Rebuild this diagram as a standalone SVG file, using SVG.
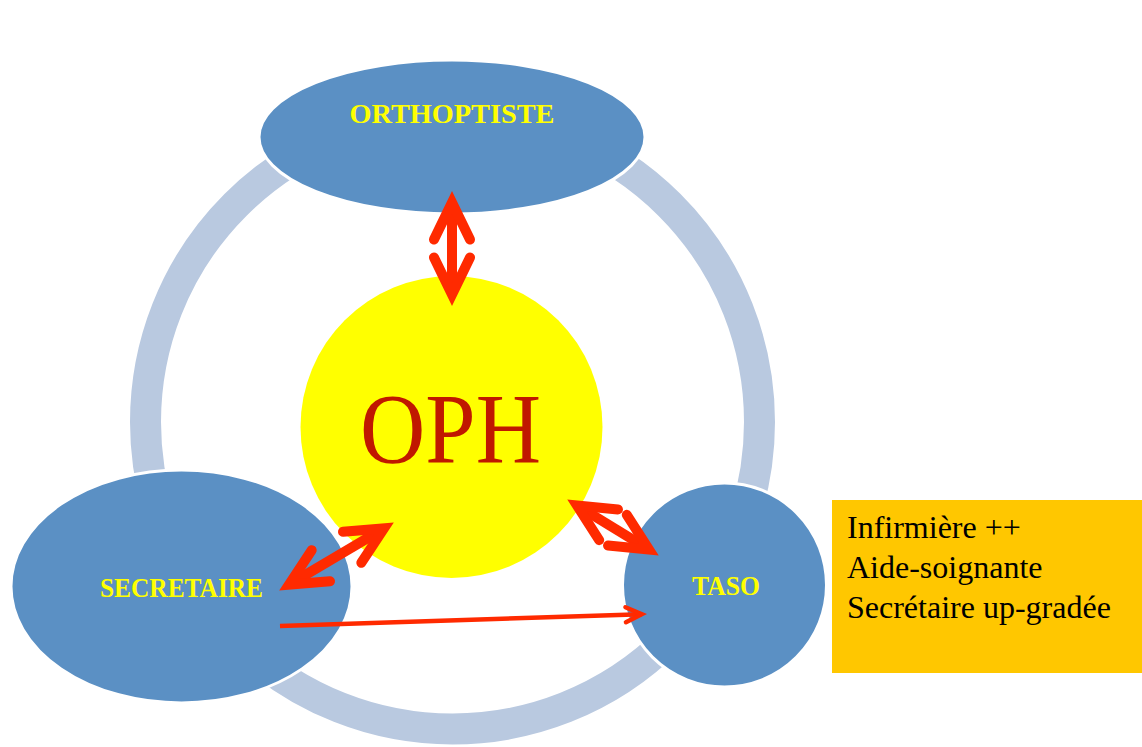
<svg xmlns="http://www.w3.org/2000/svg" width="1142" height="747" viewBox="0 0 1142 747">
<style>
.node{fill:#5B90C4;stroke:#FFFFFF;stroke-width:3}
.lbl{font-weight:bold;fill:#FFFF00;text-anchor:middle}
.big{stroke:#FF2A00;stroke-width:10;fill:none}
.thin{stroke:#FF2A00;stroke-width:4.5;fill:none}
</style>
<defs>
<marker id="headBig" markerUnits="userSpaceOnUse" orient="auto-start-reverse" refX="0" refY="0" markerWidth="10" markerHeight="10" overflow="visible">
<path d="M -37 -18 L 0 0 L -37 18" fill="none" stroke="#FF2A00" stroke-width="10" stroke-linecap="round" stroke-linejoin="miter" stroke-miterlimit="10"/>
</marker>
<marker id="headThin" markerUnits="userSpaceOnUse" orient="auto" refX="0" refY="0" markerWidth="10" markerHeight="10" overflow="visible">
<path d="M -16 -7.5 L 0 0 L -16 7.5" fill="none" stroke="#FF2A00" stroke-width="4.5" stroke-linecap="round" stroke-linejoin="miter" stroke-miterlimit="10"/>
</marker>
</defs>
<rect width="1142" height="747" fill="#FFFFFF"/>
<g id="ring">
<circle cx="452.5" cy="422" r="307" fill="none" stroke="#B9C9E0" stroke-width="31"/>
</g>
<g id="orthoptiste">
<ellipse class="node" cx="452" cy="137" rx="193" ry="77"/>
<text class="lbl" font-family="Liberation Serif, Times New Roman, serif" x="452" y="123" font-size="28" textLength="205" lengthAdjust="spacingAndGlyphs">ORTHOPTISTE</text>
</g>
<g id="secretaire">
<ellipse class="node" cx="181.5" cy="586.5" rx="170.5" ry="116.5"/>
<text class="lbl" font-family="Liberation Serif, Times New Roman, serif" x="181.5" y="597" font-size="27" textLength="163" lengthAdjust="spacingAndGlyphs">SECRETAIRE</text>
</g>
<g id="taso">
<ellipse class="node" cx="724.5" cy="585" rx="102" ry="102"/>
<text class="lbl" font-family="Liberation Serif, Times New Roman, serif" x="726" y="595" font-size="28" textLength="68" lengthAdjust="spacingAndGlyphs">TASO</text>
</g>
<g id="oph">
<circle cx="451.5" cy="427" r="151" fill="#FFFF00"/>
<text x="450.5" y="462" font-family="Liberation Serif, Times New Roman, serif" font-size="100" fill="#C01800" text-anchor="middle" textLength="181" lengthAdjust="spacingAndGlyphs">OPH</text>
</g>
<g id="roles" font-family="Liberation Serif, Times New Roman, serif" font-size="32" fill="#000000">
<rect x="832" y="500" width="310" height="173" fill="#FFC700"/>
<text x="847" y="538">Infirmière ++</text>
<text x="847" y="578">Aide-soignante</text>
<text x="847" y="618">Secrétaire up-gradée</text>
</g>
<g id="connectors">
<line class="big" x1="452" y1="202.5" x2="452" y2="294.5" marker-start="url(#headBig)" marker-end="url(#headBig)"/>
<line class="big" x1="289" y1="584.6" x2="384" y2="528.4" marker-start="url(#headBig)" marker-end="url(#headBig)"/>
<line class="big" x1="577" y1="505.5" x2="649" y2="549.5" marker-start="url(#headBig)" marker-end="url(#headBig)"/>
<line class="thin" x1="280" y1="626" x2="641.7" y2="614.2" marker-end="url(#headThin)"/>
</g>
</svg>
